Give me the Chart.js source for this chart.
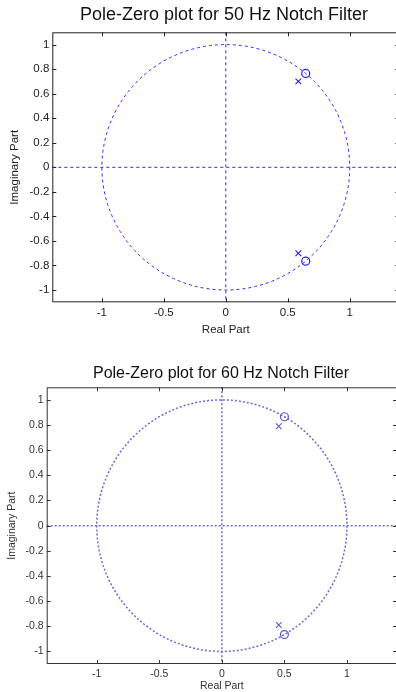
<!DOCTYPE html>
<html lang="en">
  <head>
    <meta charset="UTF-8" />
    <title>Pole-Zero plots</title>
    <style>
      body {
        margin: 0;
        width: 396px;
        height: 692px;
        overflow: hidden;
        background: #fff;
        position: relative;
      }

      .plot {
        position: absolute;
        left: 0;
      }

      /* canvases are wider than the window so the titles centre over the axes */
      #plot50 {
        top: 0;
        width: 448px;
        height: 340px;
      }

      #plot60 {
        top: 345px;
        width: 442px;
        height: 347px;
      }
    </style>
  </head>
  <body>
    <div class="plot" id="plot50"><canvas id="chart50"></canvas></div>
    <div class="plot" id="plot60"><canvas id="chart60"></canvas></div>

    <script src="https://cdn.jsdelivr.net/npm/chart.js@4.4.0/dist/chart.umd.min.js"></script>
    <script>
      // axis ticks (same for both plots)
      const X_TICKS = [-1, -0.5, 0, 0.5, 1];
      const X_TICK_LABELS = ["-1", "-0.5", "0", "0.5", "1"];
      const Y_TICKS = [-1, -0.8, -0.6, -0.4, -0.2, 0, 0.2, 0.4, 0.6, 0.8, 1];
      const Y_TICK_LABELS = ["-1", "-0.8", "-0.6", "-0.4", "-0.2", "0", "0.2", "0.4", "0.6", "0.8", "1"];
      const X_RANGE = [-1.4, 1.4];
      const Y_RANGE = [-1.1, 1.1];
      const UNIT_RADIUS = 1;

      // 50 Hz notch: zeros (o) and poles (x)
      const ZEROS_50_RE = [0.645, 0.645];
      const ZEROS_50_IM = [0.765, -0.765];
      const POLES_50_RE = [0.585, 0.585];
      const POLES_50_IM = [0.70, -0.70];

      // 60 Hz notch
      const ZEROS_60_RE = [0.50, 0.50];
      const ZEROS_60_IM = [0.866, -0.866];
      const POLES_60_RE = [0.455, 0.455];
      const POLES_60_IM = [0.79, -0.79];

      const FONT = "'Liberation Sans', Arial, sans-serif";

      // unit circle, lines through the origin, box and inner tick marks
      const pzPlot = {
        id: "pzPlot",
        beforeDatasetsDraw(chart, args, o) {
          const { ctx, chartArea: a, scales } = chart;
          const x = scales.x, y = scales.y;
          const x0 = x.getPixelForValue(0);
          const y0 = y.getPixelForValue(0);
          ctx.save();
          ctx.beginPath();
          ctx.rect(a.left, a.top, a.right - a.left, a.bottom - a.top);
          ctx.clip();
          ctx.strokeStyle = o.color;
          ctx.lineWidth = o.lineWidth;
          ctx.setLineDash(o.dash);
          ctx.beginPath();
          ctx.moveTo(a.left, y0);
          ctx.lineTo(a.right, y0);
          ctx.moveTo(x0, a.top);
          ctx.lineTo(x0, a.bottom);
          ctx.stroke();
          const rx = Math.abs(x.getPixelForValue(UNIT_RADIUS) - x0);
          const ry = Math.abs(y.getPixelForValue(UNIT_RADIUS) - y0);
          ctx.beginPath();
          ctx.ellipse(x0, y0, rx, ry, 0, 0, 2 * Math.PI);
          ctx.stroke();
          ctx.restore();
        },
        afterDraw(chart, args, o) {
          const { ctx, chartArea: a, scales } = chart;
          const t = 4;
          ctx.save();
          ctx.strokeStyle = o.frameColor;
          ctx.lineWidth = 1;
          ctx.strokeRect(a.left + 0.5, a.top + 0.5, a.right - a.left - 1, a.bottom - a.top - 1);
          ctx.beginPath();
          scales.x.ticks.forEach((tk) => {
            const px = Math.round(scales.x.getPixelForValue(tk.value)) + 0.5;
            ctx.moveTo(px, a.top);
            ctx.lineTo(px, a.top + t);
            ctx.moveTo(px, a.bottom);
            ctx.lineTo(px, a.bottom - t);
          });
          scales.y.ticks.forEach((tk) => {
            const py = Math.round(scales.y.getPixelForValue(tk.value)) + 0.5;
            ctx.moveTo(a.left, py);
            ctx.lineTo(a.left + t, py);
            ctx.moveTo(a.right, py);
            ctx.lineTo(a.right - t, py);
          });
          ctx.stroke();
          ctx.restore();
        },
      };

      function points(re, im) {
        return re.map((v, i) => ({ x: v, y: im[i] }));
      }

      function makePlot(id, s) {
        new Chart(document.getElementById(id), {
          type: "scatter",
          data: {
            datasets: [
              {
                label: "Zeros",
                data: points(s.zerosRe, s.zerosIm),
                pointStyle: "circle",
                pointRadius: 4,
                borderWidth: 1.2,
                borderColor: s.markColor,
                backgroundColor: "transparent",
              },
              {
                label: "Poles",
                data: points(s.polesRe, s.polesIm),
                pointStyle: "crossRot",
                pointRadius: 4,
                borderWidth: 1.1,
                borderColor: s.markColor,
              },
            ],
          },
          options: {
            responsive: true,
            maintainAspectRatio: false,
            animation: false,
            events: [],
            layout: { padding: s.padding },
            plugins: {
              legend: { display: false },
              tooltip: { enabled: false },
              title: {
                display: true,
                text: s.title,
                color: "#111",
                font: { family: FONT, size: s.titleSize, weight: "normal" },
                padding: s.titlePad,
              },
              pzPlot: {
                color: s.lineColor,
                lineWidth: s.lineWidth,
                dash: s.dash,
                frameColor: s.frameColor,
              },
            },
            scales: {
              x: {
                type: "linear",
                min: X_RANGE[0],
                max: X_RANGE[1],
                afterBuildTicks: (sc) => (sc.ticks = X_TICKS.map((v) => ({ value: v }))),
                afterFit: (sc) => (sc.height = s.xAxisHeight),
                grid: { display: false, drawTicks: false },
                border: { display: false },
                ticks: {
                  autoSkip: false,
                  maxRotation: 0,
                  padding: s.tickPad,
                  color: s.textColor,
                  font: { family: FONT, size: s.tickSize },
                  callback: (v, i) => X_TICK_LABELS[i],
                },
                title: {
                  display: true,
                  text: "Real Part",
                  color: s.textColor,
                  font: { family: FONT, size: s.tickSize },
                  padding: { top: 0, bottom: s.xTitlePad },
                },
              },
              y: {
                type: "linear",
                min: Y_RANGE[0],
                max: Y_RANGE[1],
                afterBuildTicks: (sc) => (sc.ticks = Y_TICKS.map((v) => ({ value: v }))),
                afterFit: (sc) => (sc.width = s.yAxisWidth),
                grid: { display: false, drawTicks: false },
                border: { display: false },
                ticks: {
                  autoSkip: false,
                  padding: 3,
                  color: s.textColor,
                  font: { family: FONT, size: s.tickSize },
                  callback: (v, i) => Y_TICK_LABELS[i],
                },
                title: {
                  display: true,
                  text: "Imaginary Part",
                  color: s.textColor,
                  font: { family: FONT, size: s.tickSize },
                  padding: { top: s.yTitlePad, bottom: 0 },
                },
              },
              // empty right-hand axis: only reserves the part of the canvas past the window
              yRight: {
                type: "linear",
                position: "right",
                min: Y_RANGE[0],
                max: Y_RANGE[1],
                afterFit: (sc) => (sc.width = s.rightSpace),
                grid: { display: false, drawTicks: false },
                border: { display: false },
                ticks: { display: false },
              },
            },
          },
          plugins: [pzPlot],
        });
      }

      makePlot("chart50", {
        title: "Pole-Zero plot for 50 Hz Notch Filter",
        titleSize: 18,
        titlePad: { top: 4.2, bottom: 6.5 },
        padding: { left: 0, top: 0, right: 0, bottom: 3.4 },
        rightSpace: 48.7,
        xAxisHeight: 34.3,
        yAxisWidth: 52.3,
        tickPad: 3.2,
        xTitlePad: 0,
        yTitlePad: 8.1,
        tickSize: 11.5,
        textColor: "#222",
        frameColor: "#222",
        lineColor: "#2a2aff",
        lineWidth: 1,
        dash: [3, 3],
        markColor: "#2020f0",
        zerosRe: ZEROS_50_RE,
        zerosIm: ZEROS_50_IM,
        polesRe: POLES_50_RE,
        polesIm: POLES_50_IM,
      });

      makePlot("chart60", {
        title: "Pole-Zero plot for 60 Hz Notch Filter",
        titleSize: 16,
        titlePad: { top: 18.7, bottom: 4.4 },
        padding: { left: 0, top: 0, right: 0, bottom: 0 },
        rightSpace: 45,
        xAxisHeight: 28,
        yAxisWidth: 46.7,
        tickPad: 4.3,
        xTitlePad: 0,
        yTitlePad: 6.1,
        tickSize: 10.5,
        textColor: "#333",
        frameColor: "#333",
        lineColor: "#6a6ad8",
        lineWidth: 1.5,
        dash: [2, 2],
        markColor: "#5a5ad8",
        zerosRe: ZEROS_60_RE,
        zerosIm: ZEROS_60_IM,
        polesRe: POLES_60_RE,
        polesIm: POLES_60_IM,
      });
    </script>
  </body>
</html>
